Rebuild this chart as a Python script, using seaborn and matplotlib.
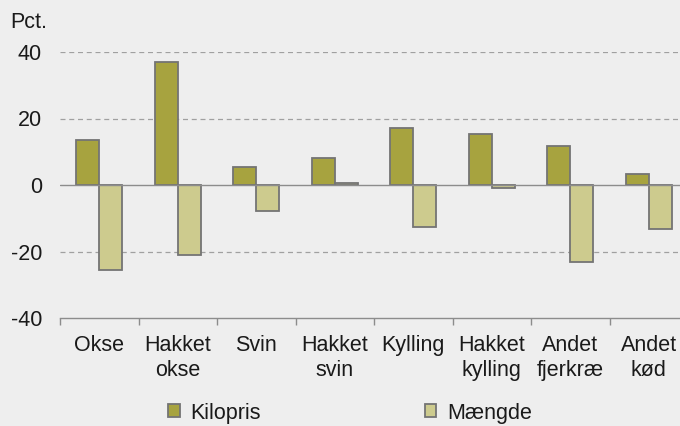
import pandas as pd
import numpy as np
import matplotlib.pyplot as plt
import seaborn as sns
from matplotlib.ticker import MultipleLocator, FixedLocator

# Données (variation en pct.)
categories = ['Okse', 'Hakket\nokse', 'Svin', 'Hakket\nsvin', 'Kylling',
              'Hakket\nkylling', 'Andet\nfjerkræ', 'Andet\nkød']
kilopris = [13.5, 37.0, 5.3, 8.1, 17.0, 15.2, 11.7, 3.3]
maengde = [-25.5, -21.0, -7.7, 0.6, -12.5, -0.8, -23.2, -13.3]
serier = ['Kilopris', 'Mængde']

df = pd.DataFrame({
    'Kategori': categories * 2,
    'Serie': [serier[0]] * len(categories) + [serier[1]] * len(categories),
    'Pct': kilopris + maengde,
})

sns.set_theme(style='white')
plt.rcParams['font.family'] = ['Liberation Sans', 'DejaVu Sans']
plt.rcParams['axes.unicode_minus'] = False
bg = '#eeeeee'
txt = '#1a1a1a'
couleurs = {'Kilopris': '#a7a33f', 'Mængde': '#cdcb8e'}
fs = 15.5

fig = plt.figure(figsize=(6.8, 4.26), dpi=100, facecolor=bg)
ax = fig.add_axes([60 / 680, 108 / 426, 628 / 680, 266 / 426], facecolor=bg)

sns.barplot(data=df, x='Kategori', y='Pct', hue='Serie', order=categories,
            hue_order=serier, palette=couleurs, width=0.58, dodge=True,
            edgecolor='#747474', linewidth=1.3, saturation=1, ax=ax)

# grille et axes
ax.set_ylim(-40, 40)
ax.set_xlim(-0.5, len(categories) - 0.5)
ax.yaxis.set_major_locator(MultipleLocator(20))
for y in [-20, 20, 40]:
    ax.axhline(y, color='#a0a0a0', linestyle=(0, (4, 3)), linewidth=0.9, zorder=0)
ax.axhline(0, color='#8c8c8c', linewidth=1.0, zorder=1)

for s in ['top', 'right', 'left']:
    ax.spines[s].set_visible(False)
ax.spines['bottom'].set_color('#8c8c8c')
ax.spines['bottom'].set_linewidth(1.0)

ax.set_xlabel('')
ax.set_ylabel('')
ax.tick_params(axis='y', length=0, pad=13, labelsize=fs, labelcolor=txt)
ax.tick_params(axis='x', which='major', length=0, pad=12, labelsize=fs,
               labelcolor=txt)
ax.xaxis.set_minor_locator(FixedLocator(np.arange(-0.5, len(categories), 1)))
ax.tick_params(axis='x', which='minor', length=5, color='#8c8c8c', width=1.0,
               direction='out', bottom=True)
for lab in ax.get_xticklabels():
    lab.set_linespacing(1.3)

fig.text(10 / 680, 1 - 23 / 426, 'Pct.', fontsize=fs, color=txt,
         va='center', ha='left')

# légende en bas
handles, labels = ax.get_legend_handles_labels()
ax.legend_.remove()
fig.legend(handles, labels, loc='center', bbox_to_anchor=(350 / 680, 13 / 426),
           ncol=2, frameon=False, fontsize=fs, handlelength=0.55,
           handleheight=0.55, handletextpad=0.5, columnspacing=7.6,
           labelcolor=txt)

fig.savefig('out.png', dpi=100, facecolor=bg)
